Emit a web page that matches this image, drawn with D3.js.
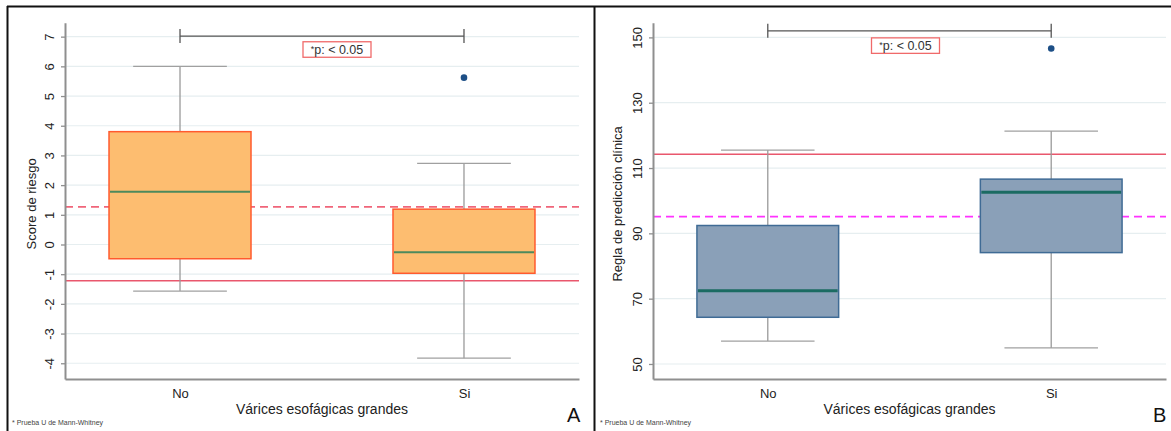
<!DOCTYPE html>
<html>
<head>
<meta charset="utf-8">
<script src="https://cdn.jsdelivr.net/npm/d3@7"></script>
<style>
  body { margin: 0; background: #fff; }
  svg { display: block; font-family: "Liberation Sans", Arial, sans-serif; }
</style>
</head>
<body>
<div id="chart"></div>
<script>
// groups on the x axis (same for both panels)
const groups = ["No", "Si"];

// panel A: Score de riesgo  [min, q1, median, q3, max]
const scoreBoxes = [[-1.57, -0.48, 1.78, 3.8, 6.0], [-3.83, -0.97, -0.26, 1.19, 2.73]];
const scoreOutliers = [[], [5.62]];
const scoreTicks = [-4, -3, -2, -1, 0, 1, 2, 3, 4, 5, 6, 7];
const scoreDashed = 1.27;
const scoreSolid = -1.22;
const scoreBracket = 7.02;

// panel B: Regla de predicción clínica
const reglaBoxes = [[57.0, 64.3, 72.4, 92.4, 115.5], [54.9, 84.1, 102.6, 106.6, 121.3]];
const reglaOutliers = [[], [146.6]];
const reglaTicks = [50, 70, 90, 110, 130, 150];
const reglaDashed = 95.1;
const reglaSolid = 114.2;
const reglaBracket = 152.0;

const W = 1171, H = 431;
const svg = d3.select("#chart").append("svg").attr("width", W).attr("height", H);

function drawPanel(opt) {
  const y = d3.scaleLinear().domain(opt.domain).range([379, 22.7]);
  const x = d3.scalePoint().domain(groups).range([opt.left, opt.right]).padding(0.405);
  const step = x.step();
  const g = svg.append("g");

  // gridlines
  g.append("g").selectAll("line").data(opt.ticks).join("line")
    .attr("x1", opt.left).attr("x2", opt.right)
    .attr("y1", d => y(d)).attr("y2", d => y(d))
    .attr("stroke", "#e6eef0").attr("stroke-width", 1.2);

  // reference lines
  g.append("line").attr("x1", opt.left).attr("x2", opt.right)
    .attr("y1", y(opt.dashed)).attr("y2", y(opt.dashed))
    .attr("stroke", opt.dashColor).attr("stroke-width", 1.8).attr("stroke-dasharray", "8,5");
  g.append("line").attr("x1", opt.left).attr("x2", opt.right)
    .attr("y1", y(opt.solid)).attr("y2", y(opt.solid))
    .attr("stroke", "#e9576d").attr("stroke-width", 1.5);

  const boxW = step * 0.5, capW = step * 0.33;
  const bx = g.append("g").selectAll("g").data(opt.boxes).join("g")
    .attr("transform", (d, i) => `translate(${x(groups[i])},0)`);

  // whiskers
  bx.append("line").attr("x1", 0).attr("x2", 0)
    .attr("y1", d => y(d[3])).attr("y2", d => y(d[4]))
    .attr("stroke", "#9a9a9a").attr("stroke-width", 1.3);
  bx.append("line").attr("x1", 0).attr("x2", 0)
    .attr("y1", d => y(d[0])).attr("y2", d => y(d[1]))
    .attr("stroke", "#9a9a9a").attr("stroke-width", 1.3);
  bx.append("line").attr("x1", -capW / 2).attr("x2", capW / 2)
    .attr("y1", d => y(d[4])).attr("y2", d => y(d[4]))
    .attr("stroke", "#a0a0a0").attr("stroke-width", 1.3);
  bx.append("line").attr("x1", -capW / 2).attr("x2", capW / 2)
    .attr("y1", d => y(d[0])).attr("y2", d => y(d[0]))
    .attr("stroke", "#a0a0a0").attr("stroke-width", 1.3);

  // boxes
  bx.append("rect").attr("x", -boxW / 2).attr("width", boxW)
    .attr("y", d => y(d[3])).attr("height", d => y(d[1]) - y(d[3]))
    .attr("fill", opt.fill).attr("stroke", opt.stroke).attr("stroke-width", 1.5);
  bx.append("line").attr("x1", -boxW / 2 + 1).attr("x2", boxW / 2 - 1)
    .attr("y1", d => y(d[2])).attr("y2", d => y(d[2]))
    .attr("stroke", opt.medColor).attr("stroke-width", opt.medWidth);

  // outliers
  opt.outliers.forEach((arr, i) => {
    g.append("g").selectAll("circle").data(arr).join("circle")
      .attr("cx", x(groups[i])).attr("cy", d => y(d)).attr("r", 3.3)
      .attr("fill", "#1d4f86");
  });

  // y axis (plain hyphen for negatives, like the original)
  const ya = g.append("g").attr("transform", `translate(${opt.left},0)`)
    .call(d3.axisLeft(y).tickValues(opt.ticks).tickFormat(d => String(d)).tickSize(4).tickSizeOuter(0));
  ya.select(".domain").attr("stroke", "#8f8f8f").attr("stroke-width", 2);
  ya.selectAll(".tick line").attr("stroke", "#8f8f8f").attr("stroke-width", 1.3);
  ya.selectAll(".tick text")
    .attr("x", 0).attr("y", -11.5).attr("dy", 0)
    .attr("transform", "rotate(-90)").attr("text-anchor", "middle")
    .attr("font-size", 13).attr("fill", "#222")
    .attr("font-family", "Liberation Sans, Arial, sans-serif");

  // x axis
  const xa = g.append("g").attr("transform", "translate(0,379)")
    .call(d3.axisBottom(x).tickSize(0).tickSizeOuter(0));
  xa.select(".domain").attr("stroke", "#8f8f8f").attr("stroke-width", 2);
  xa.selectAll(".tick text").attr("y", 10).attr("dy", "0.71em")
    .attr("font-size", 13).attr("fill", "#222")
    .attr("font-family", "Liberation Sans, Arial, sans-serif");

  // titles
  g.append("text").attr("transform", `translate(${opt.titleX},${(22.7 + 379) / 2 + 3}) rotate(-90)`)
    .attr("text-anchor", "middle").attr("font-size", 13).attr("fill", "#222")
    .text(opt.yTitle);
  g.append("text").attr("x", (opt.left + opt.right) / 2).attr("y", 414)
    .attr("text-anchor", "middle").attr("font-size", 14).attr("fill", "#222")
    .text("Várices esofágicas grandes");

  // significance bracket
  const by = y(opt.bracket);
  const x0 = x(groups[0]), x1 = x(groups[1]);
  g.append("line").attr("x1", x0).attr("x2", x1).attr("y1", by).attr("y2", by)
    .attr("stroke", "#555").attr("stroke-width", 1.3);
  [x0, x1].forEach(xx => g.append("line").attr("x1", xx).attr("x2", xx)
    .attr("y1", by - 7).attr("y2", by + 7).attr("stroke", "#555").attr("stroke-width", 1.3));
  const pcx = (x0 + x1) / 2 + opt.pShift;
  g.append("rect").attr("x", pcx - 34).attr("y", by + opt.pGap).attr("width", 68).attr("height", 15.5)
    .attr("fill", "#fff").attr("stroke", "#f06a6a").attr("stroke-width", 1.3);
  const pt = g.append("text").attr("x", pcx).attr("y", by + opt.pGap + 12.3)
    .attr("text-anchor", "middle").attr("font-size", 12.5).attr("fill", "#333");
  pt.append("tspan").attr("font-size", 9).attr("dy", -2).text("*");
  pt.append("tspan").attr("dy", 2).text("p: < 0.05");

  // footnote and panel letter
  g.append("text").attr("x", opt.frameX + 5).attr("y", 425)
    .attr("font-size", 7).attr("fill", "#444").text("* Prueba U de Mann-Whitney");
  g.append("text").attr("x", opt.letterX).attr("y", 422)
    .attr("font-size", 20).attr("fill", "#111").text(opt.letter);
}

drawPanel({
  domain: [-4.53, 7.47], left: 65, right: 579, ticks: scoreTicks,
  boxes: scoreBoxes, outliers: scoreOutliers,
  dashed: scoreDashed, solid: scoreSolid, dashColor: "#f0657a",
  fill: "#fdbd70", stroke: "#ff5a2e", medColor: "#4d8a5c", medWidth: 2,
  titleX: 36, yTitle: "Score de riesgo", bracket: scoreBracket, pShift: 15, pGap: 5.7,
  frameX: 7, letterX: 567, letter: "A"
});

drawPanel({
  domain: [45.4, 154.5], left: 653, right: 1166, ticks: reglaTicks,
  boxes: reglaBoxes, outliers: reglaOutliers,
  dashed: reglaDashed, solid: reglaSolid, dashColor: "#ff33ff",
  fill: "#8aa0b8", stroke: "#3f6b95", medColor: "#1b6b62", medWidth: 3,
  titleX: 622, yTitle: "Regla de predicción clínica", bracket: reglaBracket, pShift: -4, pGap: 7,
  frameX: 595, letterX: 1153, letter: "B"
});

// frame lines
svg.append("line").attr("x1", 7).attr("x2", W).attr("y1", 6.5).attr("y2", 6.5)
  .attr("stroke", "#111").attr("stroke-width", 2);
svg.append("line").attr("x1", 7.5).attr("x2", 7.5).attr("y1", 6).attr("y2", H)
  .attr("stroke", "#111").attr("stroke-width", 2);
svg.append("line").attr("x1", 594.5).attr("x2", 594.5).attr("y1", 6).attr("y2", H)
  .attr("stroke", "#111").attr("stroke-width", 2);
</script>
</body>
</html>
